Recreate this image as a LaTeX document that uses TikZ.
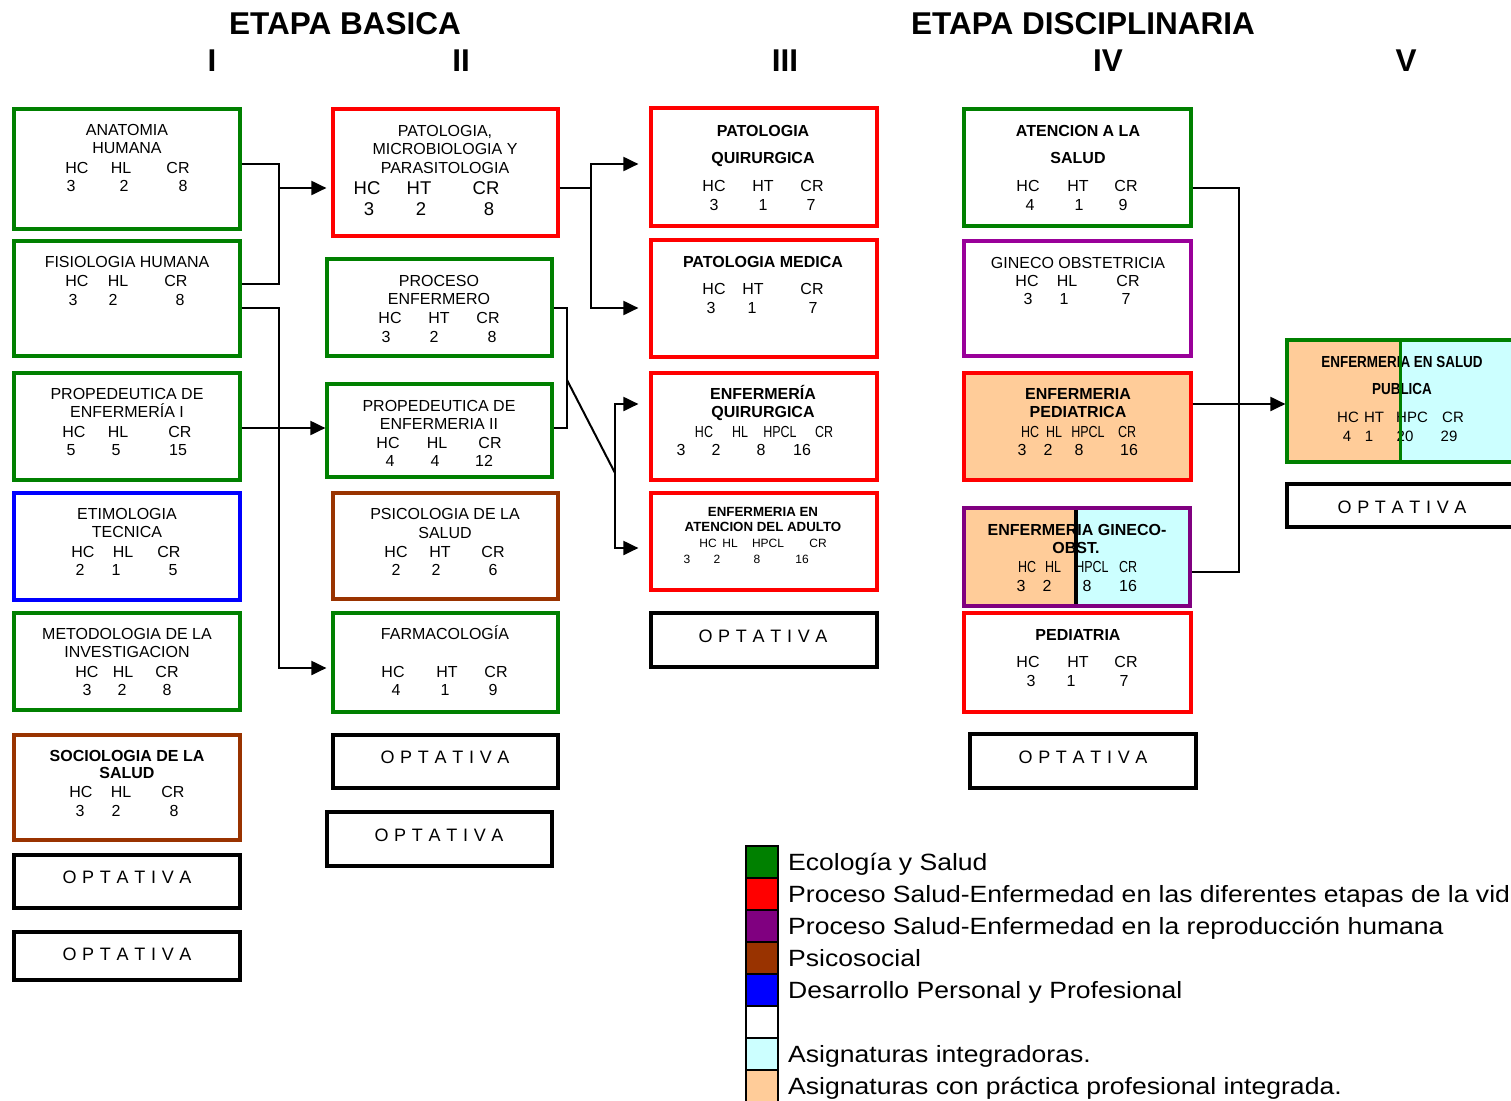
\documentclass[tikz,border=0pt]{standalone}
\usepackage{fontspec}
\setmainfont{Liberation Sans}
\usepackage{graphicx}
\usetikzlibrary{arrows.meta}
\definecolor{cgreen}{RGB}{0,128,0}
\definecolor{cred}{RGB}{255,0,0}
\definecolor{cblue}{RGB}{0,0,255}
\definecolor{cbrown}{RGB}{153,51,0}
\definecolor{cpurple}{RGB}{128,0,128}
\definecolor{cmagenta}{RGB}{153,0,153}
\definecolor{cpeach}{RGB}{255,204,153}
\definecolor{ccyan}{RGB}{204,255,255}
\newcommand\bx[6][]{\node[box,#1,minimum width={(#5-#3)*1pt},minimum height={(#6-#4)*1pt}] (#2) at ({(#3+#5)/2},{(#4+#6)/2}) {};}
\newcommand\tx[5][t16]{\node[#1] (#2) at (#3,#4) {#5};}
\newcommand\rw[4][t16]{\foreach \rwx/\rwt [count=\k] in {#4} {\node[#1] (#2-\k) at (\rwx,#3) {\rwt};}}
\newcommand\sq[1]{\scalebox{0.78}[1]{#1}}
\newcommand\optxt{O\hspace{5.7pt}P\hspace{5.7pt}T\hspace{5.7pt}A\hspace{5.7pt}T\hspace{5.7pt}I\hspace{5.7pt}V\hspace{5.7pt}A}
\begin{document}
\begin{tikzpicture}[x=1pt,y=-1pt,
  box/.style={draw,line width=3.2pt,inner sep=0pt},
  opt/.style={draw=black,line width=4.3pt},
  t16/.style={inner sep=0pt,font=\fontsize{16}{18}\selectfont,text height=11.5pt,text depth=0pt},
  t16b/.style={inner sep=0pt,font=\fontsize{16}{18}\selectfont\bfseries,text height=11.5pt,text depth=0pt},
  t18/.style={inner sep=0pt,font=\fontsize{18.5}{20}\selectfont,text height=13.2pt,text depth=0pt},
  t15/.style={inner sep=0pt,font=\fontsize{15}{17}\selectfont,text height=10.7pt,text depth=0pt},
  t13b/.style={inner sep=0pt,font=\fontsize{13.3}{15}\selectfont\bfseries,text height=9.5pt,text depth=0pt},
  t12/.style={inner sep=0pt,font=\fontsize{12}{14}\selectfont,text height=8.6pt,text depth=0pt},
  topt/.style={inner sep=0pt,font=\fontsize{18}{20}\selectfont,text height=12.9pt,text depth=0pt},
  thead/.style={inner sep=0pt,font=\fontsize{31.5}{34}\selectfont\bfseries,text height=22.6pt,text depth=0pt},
  tleg/.style={inner sep=0pt,anchor=west,font=\fontsize{23.5}{26}\selectfont,text height=16.8pt,text depth=0pt},
  sw/.style={draw=black,line width=1.5pt,minimum size=32pt,inner sep=0pt},
  conn/.style={draw=black,line width=2pt},
  arr/.style={-{Triangle[length=15pt,width=14pt]}}
]
\useasboundingbox (0,0) rectangle (1511,1100);
\clip (0,0) rectangle (1511,1100);
\fill[white] (0,0) rectangle (1511,1100);

% headings
\tx[thead]{h1}{345}{23}{ETAPA BASICA}
\tx[thead]{h2}{1083}{23}{ETAPA DISCIPLINARIA}
\tx[thead]{r1}{212}{60}{I}
\tx[thead]{r2}{461}{60}{II}
\tx[thead]{r3}{785}{60}{III}
\tx[thead]{r4}{1108}{60}{IV}
\tx[thead]{r5}{1406}{60}{V}

% ---------- Column I
\bx[draw=cgreen]{anat}{14}{109}{240}{229}
\tx{anat-a}{127}{130}{ANATOMIA}
\tx{anat-b}{127}{148}{HUMANA}
\rw{anat-h}{168}{77/HC,121/HL,178/CR}
\rw{anat-n}{186}{71/3,124/2,183/8}

\bx[draw=cgreen]{fisio}{14}{241}{240}{356}
\tx{fisio-a}{127}{262}{FISIOLOGIA HUMANA}
\rw{fisio-h}{281}{77/HC,118/HL,176/CR}
\rw{fisio-n}{300}{73/3,113/2,180/8}

\bx[draw=cgreen]{prop1}{14}{373}{240}{480}
\tx{prop1-a}{127}{394}{PROPEDEUTICA DE}
\tx{prop1-b}{127}{412}{ENFERMERÍA I}
\rw{prop1-h}{432}{74/HC,118/HL,180/CR}
\rw{prop1-n}{450}{71/5,116/5,178/15}

\bx[draw=cblue]{etim}{14}{493}{240}{600}
\tx{etim-a}{127}{514}{ETIMOLOGIA}
\tx{etim-b}{127}{532}{TECNICA}
\rw{etim-h}{552}{83/HC,123/HL,169/CR}
\rw{etim-n}{570}{80/2,116/1,173/5}

\bx[draw=cgreen]{meto}{14}{613}{240}{710}
\tx{meto-a}{127}{634}{METODOLOGIA DE LA}
\tx{meto-b}{127}{652}{INVESTIGACION}
\rw{meto-h}{672}{87/HC,123/HL,167/CR}
\rw{meto-n}{690}{87/3,122/2,167/8}

\bx[draw=cbrown]{socio}{14}{735}{240}{840}
\tx[t16b]{socio-a}{127}{756}{SOCIOLOGIA DE LA}
\tx[t16b]{socio-b}{127}{773}{SALUD}
\rw{socio-h}{792}{81/HC,121/HL,173/CR}
\rw{socio-n}{811}{80/3,116/2,174/8}

\bx[opt]{opt1a}{14}{855}{240}{908}
\tx[topt]{opt1a-t}{127}{877}{\optxt}
\bx[opt]{opt1b}{14}{932}{240}{980}
\tx[topt]{opt1b-t}{127}{954}{\optxt}

% ---------- Column II
\bx[draw=cred]{patmic}{333}{109}{558}{236}
\tx{patmic-a}{445}{131}{PATOLOGIA,}
\tx{patmic-b}{445}{149}{MICROBIOLOGIA Y}
\tx{patmic-c}{445}{168}{PARASITOLOGIA}
\rw[t18]{patmic-h}{188}{367/HC,419/HT,486/CR}
\rw[t18]{patmic-n}{209}{369/3,421/2,489/8}

\bx[draw=cgreen]{proc}{327}{259}{552}{356}
\tx{proc-a}{439}{281}{PROCESO}
\tx{proc-b}{439}{299}{ENFERMERO}
\rw{proc-h}{318}{390/HC,439/HT,488/CR}
\rw{proc-n}{337}{386/3,434/2,492/8}

\bx[draw=cgreen]{prop2}{327}{384}{552}{477}
\tx{prop2-a}{439}{406}{PROPEDEUTICA DE}
\tx{prop2-b}{439}{424}{ENFERMERIA II}
\rw{prop2-h}{443}{388/HC,437/HL,490/CR}
\rw{prop2-n}{461}{390/4,435/4,484/12}

\bx[draw=cbrown]{psico}{333}{493}{558}{599}
\tx{psico-a}{445}{514}{PSICOLOGIA DE LA}
\tx{psico-b}{445}{533}{SALUD}
\rw{psico-h}{552}{396/HC,440/HT,493/CR}
\rw{psico-n}{570}{396/2,436/2,493/6}

\bx[draw=cgreen]{farma}{333}{613}{558}{712}
\tx{farma-a}{445}{634}{FARMACOLOGÍA}
\rw{farma-h}{672}{393/HC,447/HT,496/CR}
\rw{farma-n}{690}{396/4,445/1,493/9}

\bx[opt]{opt2a}{333}{735}{558}{788}
\tx[topt]{opt2a-t}{445}{757}{\optxt}
\bx[opt]{opt2b}{327}{812}{552}{866}
\tx[topt]{opt2b-t}{439}{835}{\optxt}

% ---------- Column III
\bx[draw=cred]{patq}{651}{108}{877}{226}
\tx[t16b]{patq-a}{763}{131}{PATOLOGIA}
\tx[t16b]{patq-b}{763}{158}{QUIRURGICA}
\rw{patq-h}{186}{714/HC,763/HT,812/CR}
\rw{patq-n}{205}{714/3,763/1,811/7}

\bx[draw=cred]{patm}{651}{240}{877}{357}
\tx[t16b]{patm-a}{763}{262}{PATOLOGIA MEDICA}
\rw{patm-h}{289}{714/HC,753/HT,812/CR}
\rw{patm-n}{308}{711/3,752/1,813/7}

\bx[draw=cred]{enfq}{651}{373}{877}{480}
\tx[t16b]{enfq-a}{763}{394}{ENFERMERÍA}
\tx[t16b]{enfq-b}{763}{412}{QUIRURGICA}
\rw{enfq-h}{432}{704/\sq{HC},740/\sq{HL},780/\sq{HPCL},824/\sq{CR}}
\rw{enfq-n}{450}{681/3,716/2,761/8,802/16}

\bx[draw=cred]{enfa}{651}{493}{877}{590}
\tx[t13b]{enfa-a}{763}{512}{ENFERMERIA EN}
\tx[t13b]{enfa-b}{763}{527}{ATENCION DEL ADULTO}
\rw[t12]{enfa-h}{543}{708/HC,730/HL,768/HPCL,818/CR}
\rw[t12]{enfa-n}{559}{687/3,717/2,757/8,802/16}

\bx[opt]{opt3}{651}{613}{877}{667}
\tx[topt]{opt3-t}{763}{636}{\optxt}

% ---------- Column IV
\bx[draw=cgreen]{aten}{964}{109}{1191}{226}
\tx[t16b]{aten-a}{1078}{131}{ATENCION A LA}
\tx[t16b]{aten-b}{1078}{158}{SALUD}
\rw{aten-h}{186}{1028/HC,1078/HT,1126/CR}
\rw{aten-n}{205}{1030/4,1079/1,1123/9}

\bx[draw=cmagenta]{gineco}{964}{241}{1191}{356}
\tx{gineco-a}{1078}{263}{GINECO OBSTETRICIA}
\rw{gineco-h}{281}{1027/HC,1067/HL,1128/CR}
\rw{gineco-n}{299}{1028/3,1064/1,1126/7}

\bx[draw=cred,fill=cpeach]{enfp}{964}{373}{1191}{480}
\tx[t16b]{enfp-a}{1078}{394}{ENFERMERIA}
\tx[t16b]{enfp-b}{1078}{412}{PEDIATRICA}
\rw{enfp-h}{432}{1030/\sq{HC},1054/\sq{HL},1088/\sq{HPCL},1127/\sq{CR}}
\rw{enfp-n}{450}{1022/3,1048/2,1079/8,1129/16}

\fill[cpeach] (964,508) rectangle (1076,606);
\fill[ccyan] (1076,508) rectangle (1190,606);
\bx[draw=cpurple]{enfg}{964}{508}{1190}{606}
\tx[t16b]{enfg-a}{1077}{530}{ENFERMERIA GINECO-}
\tx[t16b]{enfg-b}{1076}{548}{OBST.}
\rw{enfg-h}{567}{1027/\sq{HC},1053/\sq{HL},1092/\sq{HPCL},1128/\sq{CR}}
\rw{enfg-n}{586}{1021/3,1047/2,1087/8,1128/16}
\draw[black,line width=4pt] (1076,510) -- (1076,604);

\bx[draw=cred]{pedia}{964}{613}{1191}{712}
\tx[t16b]{pedia-a}{1078}{635}{PEDIATRIA}
\rw{pedia-h}{662}{1028/HC,1078/HT,1126/CR}
\rw{pedia-n}{681}{1031/3,1071/1,1124/7}

\bx[opt]{opt4}{970}{734}{1196}{788}
\tx[topt]{opt4-t}{1083}{757}{\optxt}

% ---------- Column V
\fill[cpeach] (1287,340) rectangle (1400,462);
\fill[ccyan] (1400,340) rectangle (1513,462);
\bx[draw=cgreen]{salp}{1287}{340}{1513}{462}
\tx[t16b]{salp-a}{1402}{362}{\scalebox{0.84}[1]{ENFERMERIA EN SALUD}}
\tx[t16b]{salp-b}{1402}{389}{\scalebox{0.84}[1]{PUBLICA}}
\rw[t15]{salp-h}{417}{1348/HC,1374/HT,1412/HPC,1453/CR}
\rw[t15]{salp-n}{436}{1347/4,1369/1,1405/20,1449/29}
\draw[cgreen,line width=3pt] (1400,342) -- (1400,460);

\bx[opt]{opt5}{1287}{484}{1513}{527}
\tx[topt]{opt5-t}{1402}{507}{\optxt}

% ---------- Connectors
\coordinate (p1) at (279,164);
\coordinate (p2) at (279,284);
\coordinate (p3) at (279,188);
\draw[conn] (anat.east |- p1) -- (p1) -- (p2) -- (fisio.east |- p2);
\draw[conn,arr,shorten >=5pt] (p3) -- (patmic.west |- p3);
\coordinate (p4) at (279,308);
\coordinate (p5) at (279,668);
\draw[conn,arr,shorten >=5pt] (fisio.east |- p4) -- (p4) -- (p5) -- (farma.west |- p5);
\coordinate (p6) at (0,428);
\draw[conn,arr] (prop1.east |- p6) -- (prop2.west |- p6);

\coordinate (q1) at (591,188);
\coordinate (q2) at (591,164);
\coordinate (q3) at (591,308);
\draw[conn] (patmic.east |- q1) -- (q1);
\draw[conn,arr,shorten >=11pt] (q3) -- (q2) -- (patq.west |- q2);
\draw[conn,arr,shorten >=11pt] (q2) -- (q3) -- (patm.west |- q3);

\coordinate (u1) at (567,308);
\coordinate (u2) at (567,428);
\draw[conn] (proc.east |- u1) -- (u1) -- (u2) -- (prop2.east |- u2);
\coordinate (u3) at (567,380);
\coordinate (u4) at (615,473);
\draw[conn] (u3) -- (u4);
\coordinate (u5) at (615,404);
\coordinate (u6) at (615,548);
\draw[conn,arr,shorten >=11pt] (u6) -- (u5) -- (enfq.west |- u5);
\draw[conn,arr,shorten >=11pt] (u5) -- (u6) -- (enfa.west |- u6);

\coordinate (v1) at (1239,188);
\coordinate (v2) at (1239,572);
\draw[conn] (aten.east |- v1) -- (v1) -- (v2) -- (enfg.east |- v2);
\coordinate (v3) at (0,404);
\draw[conn,arr] (enfp.east |- v3) -- (salp.west |- v3);

% ---------- Legend
\node[sw,fill=cgreen] (lg1) at (762,862) {};
\node[sw,fill=cred] (lg2) at (762,894) {};
\node[sw,fill=cpurple] (lg3) at (762,926) {};
\node[sw,fill=cbrown] (lg4) at (762,958) {};
\node[sw,fill=cblue] (lg5) at (762,990) {};
\node[sw,fill=white] (lg6) at (762,1022) {};
\node[sw,fill=ccyan] (lg7) at (762,1054) {};
\node[sw,fill=cpeach] (lg8) at (762,1086) {};
\node[tleg] (lt1) at (788,862) {\scalebox{1.13}[1]{Ecología y Salud}};
\node[tleg] (lt2) at (788,894) {\scalebox{1.13}[1]{Proceso Salud-Enfermedad en las diferentes etapas de la vid}};
\node[tleg] (lt3) at (788,926) {\scalebox{1.13}[1]{Proceso Salud-Enfermedad en la reproducción humana}};
\node[tleg] (lt4) at (788,958) {\scalebox{1.13}[1]{Psicosocial}};
\node[tleg] (lt5) at (788,990) {\scalebox{1.13}[1]{Desarrollo Personal y Profesional}};
\node[tleg] (lt7) at (788,1054) {\scalebox{1.13}[1]{Asignaturas integradoras.}};
\node[tleg] (lt8) at (788,1086) {\scalebox{1.13}[1]{Asignaturas con práctica profesional integrada.}};
\end{tikzpicture}
\end{document}
